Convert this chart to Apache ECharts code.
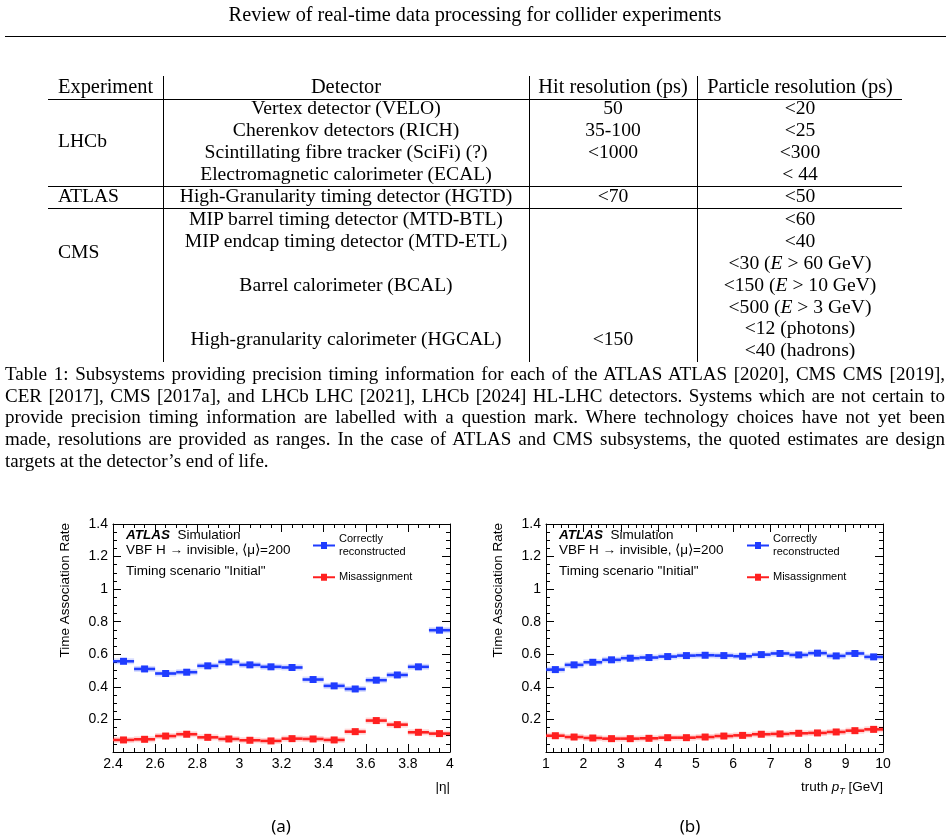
<!DOCTYPE html>
<html lang="en">
<head>
  <meta charset="utf-8">
  <title>time association rate</title>
  <style>
    body { margin: 0; background: #fff; }
    #page { position: relative; width: 951px; height: 839px; overflow: hidden; }
    #container { position: absolute; left: 0; top: 0; width: 951px; height: 839px; z-index: 0; }
    .t { position: absolute; z-index: 1; white-space: nowrap; line-height: 1; color: #000;
         font-family: "Liberation Serif", "DejaVu Serif", serif; font-size: 19.6px; }
    .ln { position: absolute; z-index: 1; background: #000; }
    .cap { position: absolute; z-index: 1; left: 5px; width: 940px; white-space: nowrap;
           font-family: "Liberation Serif", serif; font-size: 19px; line-height: 1;
           text-align: justify; text-align-last: justify; }
  </style>
</head>
<body>
  <div id="page">
    <div id="container"></div>
  </div>

  <script type="text/javascript" src="https://cdn.jsdelivr.net/npm/echarts@6/dist/echarts.min.js"></script>
  <script type="text/javascript">
// ---- data ----
const etaCenters = [2.45, 2.55, 2.65, 2.75, 2.85, 2.95, 3.05, 3.15, 3.25, 3.35, 3.45, 3.55, 3.65, 3.75, 3.85, 3.95];
const etaCorrect = [0.557, 0.510, 0.482, 0.490, 0.529, 0.553, 0.535, 0.523, 0.519, 0.445, 0.406, 0.387, 0.441, 0.473, 0.523, 0.748];
const etaMisassign = [0.074, 0.078, 0.098, 0.109, 0.090, 0.080, 0.072, 0.068, 0.082, 0.080, 0.074, 0.125, 0.193, 0.168, 0.121, 0.113];
const etaHalfBin = 0.05;

const ptCenters = [1.25, 1.75, 2.25, 2.75, 3.25, 3.75, 4.25, 4.75, 5.25, 5.75, 6.25, 6.75, 7.25, 7.75, 8.25, 8.75, 9.25, 9.75];
const ptCorrect = [0.506, 0.535, 0.551, 0.566, 0.576, 0.580, 0.586, 0.592, 0.594, 0.592, 0.588, 0.598, 0.605, 0.596, 0.607, 0.590, 0.605, 0.584];
const ptMisassign = [0.100, 0.092, 0.086, 0.082, 0.082, 0.084, 0.088, 0.088, 0.092, 0.098, 0.102, 0.109, 0.111, 0.115, 0.117, 0.123, 0.131, 0.139];
const ptHalfBin = 0.25;

const seriesNames = ['Correctly\nreconstructed', 'Misassignment'];
const seriesColors = ['#1f3cff', '#ff2020'];

const tableHeader = ['Experiment', 'Detector', 'Hit resolution (ps)', 'Particle resolution (ps)'];
// [column, text, row y]
const tableCells = [
  [0, 'LHCb', 141],
  [1, 'Vertex detector (VELO)', 108], [2, '50', 108], [3, '&lt;20', 108],
  [1, 'Cherenkov detectors (RICH)', 130], [2, '35-100', 130], [3, '&lt;25', 130],
  [1, 'Scintillating fibre tracker (SciFi) (?)', 152], [2, '&lt;1000', 152], [3, '&lt;300', 152],
  [1, 'Electromagnetic calorimeter (ECAL)', 174], [3, '&lt; 44', 174],
  [0, 'ATLAS', 196], [1, 'High-Granularity timing detector (HGTD)', 196], [2, '&lt;70', 196], [3, '&lt;50', 196],
  [0, 'CMS', 252],
  [1, 'MIP barrel timing detector (MTD-BTL)', 219], [3, '&lt;60', 219],
  [1, 'MIP endcap timing detector (MTD-ETL)', 241], [3, '&lt;40', 241],
  [3, '&lt;30 (<i>E</i> &gt; 60 GeV)', 263],
  [1, 'Barrel calorimeter (BCAL)', 285], [3, '&lt;150 (<i>E</i> &gt; 10 GeV)', 285],
  [3, '&lt;500 (<i>E</i> &gt; 3 GeV)', 307],
  [3, '&lt;12 (photons)', 328],
  [1, 'High-granularity calorimeter (HGCAL)', 339], [2, '&lt;150', 339],
  [3, '&lt;40 (hadrons)', 350]
];
const captionLines = [
  'Table 1: Subsystems providing precision timing information for each of the ATLAS ATLAS [2020], CMS CMS [2019],',
  'CER [2017], CMS [2017a], and LHCb LHC [2021], LHCb [2024] HL-LHC detectors. Systems which are not certain to',
  'provide precision timing information are labelled with a question mark. Where technology choices have not yet been',
  'made, resolutions are provided as ranges. In the case of ATLAS and CMS subsystems, the quoted estimates are design',
  'targets at the detector\u2019s end of life.'
];

// ---- page text (table and caption) ----
var page = document.getElementById('page');
function addText(html, x, y, align, extra) {
  var d = document.createElement('div');
  d.className = 't';
  d.innerHTML = html;
  d.style.left = x + 'px';
  d.style.top = y + 'px';
  d.style.transform = align === 'left' ? 'translate(0,-50%)' : 'translate(-50%,-50%)';
  if (extra) Object.assign(d.style, extra);
  page.appendChild(d);
  return d;
}
function addLine(x, y, w, h) {
  var d = document.createElement('div');
  d.className = 'ln';
  Object.assign(d.style, { left: x + 'px', top: y + 'px', width: w + 'px', height: h + 'px' });
  page.appendChild(d);
}

addText('Review of real-time data processing for collider experiments', 475, 14, 'center', { fontSize: '20.3px' });
addLine(5, 36, 941, 1);

var colX = [58, 346, 613, 800];
tableHeader.forEach(function (h, i) {
  addText(h, i === 0 ? colX[0] : colX[i], 86, i === 0 ? 'left' : 'center', { fontSize: '20.4px' });
});
tableCells.forEach(function (c) {
  addText(c[1], colX[c[0]], c[2], c[0] === 0 ? 'left' : 'center');
});
addLine(48, 99, 854, 1);
addLine(48, 186, 854, 1);
addLine(48, 208, 854, 1);
[163, 529, 697].forEach(function (x) { addLine(x, 76, 1, 286); });

captionLines.forEach(function (l, i) {
  var d = document.createElement('div');
  d.className = 'cap';
  d.textContent = l;
  d.style.top = (364 + i * 21.7) + 'px';
  if (i === captionLines.length - 1) d.style.textAlign = d.style.textAlignLast = 'left';
  page.appendChild(d);
});

addText('(a)', 281, 825, 'center', { fontFamily: '"Noto Sans", sans-serif', fontSize: '17px' });
addText('(b)', 690, 825, 'center', { fontFamily: '"Noto Sans", sans-serif', fontSize: '17px' });

// ---- charts ----
var dom = document.getElementById('container');
var myChart = echarts.init(dom, null, { renderer: 'canvas' });

const FONT = 'Liberation Sans';
function fmt(v) { return v === 0 ? '' : String(+v.toFixed(2)); }

function xAxisOf(grid, min, max, interval, minorSplit, top) {
  return {
    type: 'value', gridIndex: grid, min: min, max: max, interval: interval,
    position: top ? 'top' : 'bottom',
    axisLine: { onZero: false, lineStyle: { color: '#000', width: 1 } },
    axisTick: { inside: true, length: 8, lineStyle: { color: '#000' } },
    minorTick: { show: true, splitNumber: minorSplit, length: 4, lineStyle: { color: '#000' } },
    axisLabel: { show: !top, color: '#000', fontFamily: FONT, fontSize: 14, margin: 5, formatter: fmt,
                 showMinLabel: true, showMaxLabel: true },
    splitLine: { show: false }
  };
}
function yAxisOf(grid, right) {
  return {
    type: 'value', gridIndex: grid, min: 0, max: 1.4, interval: 0.2,
    position: right ? 'right' : 'left',
    axisLine: { show: true, onZero: false, lineStyle: { color: '#000', width: 1 } },
    axisTick: { show: true, inside: true, length: 8, lineStyle: { color: '#000' } },
    minorTick: { show: true, splitNumber: 4, length: 4, lineStyle: { color: '#000' } },
    axisLabel: { show: !right, color: '#000', fontFamily: FONT, fontSize: 14, margin: 5, formatter: fmt },
    splitLine: { show: false }
  };
}

function binSeries(name, color, centers, values, halfBin, axis) {
  return {
    name: name,
    type: 'custom',
    xAxisIndex: axis, yAxisIndex: axis,
    itemStyle: { color: color },
    data: centers.map(function (c, i) { return [c, values[i]]; }),
    renderItem: function (params, api) {
      var xc = api.value(0), y = api.value(1);
      var a = api.coord([xc - halfBin, y]);
      var b = api.coord([xc + halfBin, y]);
      var c = api.coord([xc, y]);
      return {
        type: 'group',
        children: [
          { type: 'line', shape: { x1: a[0], y1: a[1], x2: b[0], y2: b[1] },
            style: { stroke: color, lineWidth: 6, opacity: 0.18 } },
          { type: 'line', shape: { x1: a[0], y1: a[1], x2: b[0], y2: b[1] },
            style: { stroke: color, lineWidth: 2.6 } },
          { type: 'rect', shape: { x: c[0] - 3.5, y: c[1] - 3.5, width: 7, height: 7 },
            style: { fill: color } }
        ]
      };
    }
  };
}

const legendIcon = 'path://M0,3h22v2h-22z M8,0.5h6v7h-6z';
function legendOf(left) {
  return {
    left: left, top: 533, orient: 'vertical', itemWidth: 22, itemHeight: 8, itemGap: 13,
    icon: legendIcon, selectedMode: false, padding: 0,
    textStyle: { fontFamily: FONT, fontSize: 11, lineHeight: 12.5, color: '#000', padding: [0, 0, 0, -1] },
    data: seriesNames
  };
}

function annotations(x0, titleX, xTitle, xTitleRight) {
  return [
    { type: 'text', x: x0, y: 535, style: { text: '{b|ATLAS}  Simulation', fill: '#000',
      font: '13.5px ' + FONT, verticalAlign: 'middle',
      rich: { b: { fontFamily: FONT, fontSize: 13.5, fontWeight: 'bold', fontStyle: 'italic' } } } },
    { type: 'text', x: x0, y: 550, style: { text: 'VBF H \u2192 invisible, \u27e8\u03bc\u27e9=200', fill: '#000',
      font: '13.5px ' + FONT, verticalAlign: 'middle' } },
    { type: 'text', x: x0, y: 571, style: { text: 'Timing scenario "Initial"', fill: '#000',
      font: '13.5px ' + FONT, verticalAlign: 'middle' } },
    { type: 'text', x: titleX, y: 523, rotation: Math.PI / 2, style: { text: 'Time Association Rate', fill: '#000',
      font: '13.5px ' + FONT, align: 'right', verticalAlign: 'middle' } },
    { type: 'text', x: xTitleRight, y: 787, style: { text: xTitle, fill: '#000', font: '13.5px ' + FONT,
      align: 'right', verticalAlign: 'middle',
      rich: { i: { fontFamily: FONT, fontSize: 13.5, fontStyle: 'italic' },
              s: { fontFamily: FONT, fontSize: 9, fontStyle: 'italic', padding: [9, 0, 0, 0] } } } }
  ];
}

var option = {
  animation: false,
  grid: [
    { left: 113, top: 524, width: 337, height: 228 },
    { left: 546, top: 524, width: 337, height: 228 }
  ],
  xAxis: [
    xAxisOf(0, 2.4, 4, 0.2, 4, false),
    xAxisOf(0, 2.4, 4, 0.2, 4, true),
    xAxisOf(1, 1, 10, 1, 5, false),
    xAxisOf(1, 1, 10, 1, 5, true)
  ],
  yAxis: [yAxisOf(0, false), yAxisOf(0, true), yAxisOf(1, false), yAxisOf(1, true)],
  legend: [legendOf(313), legendOf(747)],
  graphic: annotations(126, 65, '|\u03b7|', 450)
    .concat(annotations(559, 498, 'truth {i|p}{s|T} [GeV]', 883)),
  series: [
    binSeries(seriesNames[0], seriesColors[0], etaCenters, etaCorrect, etaHalfBin, 0),
    binSeries(seriesNames[1], seriesColors[1], etaCenters, etaMisassign, etaHalfBin, 0),
    binSeries(seriesNames[0], seriesColors[0], ptCenters, ptCorrect, ptHalfBin, 2),
    binSeries(seriesNames[1], seriesColors[1], ptCenters, ptMisassign, ptHalfBin, 2)
  ]
};

myChart.setOption(option);
window.addEventListener('resize', myChart.resize);
  </script>
</body>
</html>
